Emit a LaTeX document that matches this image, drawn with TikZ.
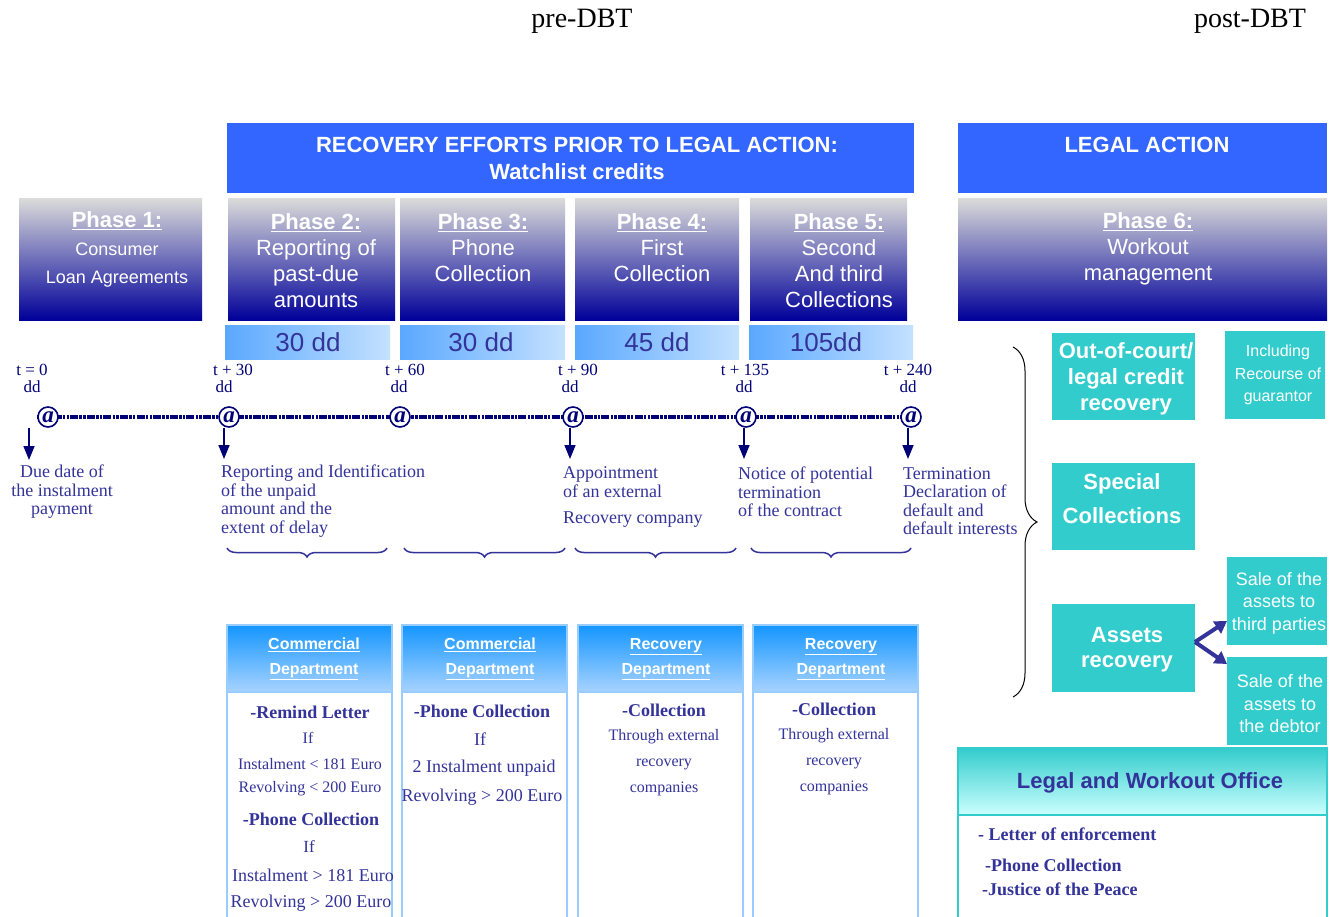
\documentclass[tikz,border=0pt]{standalone}
\usepackage{fontspec}
\setmainfont{Liberation Serif}
\setsansfont{Liberation Sans}
\usetikzlibrary{arrows.meta,decorations.pathreplacing}

\definecolor{hdrblue}{HTML}{3366FF}
\definecolor{phtop}{HTML}{DADADA}
\definecolor{phbot}{HTML}{000099}
\definecolor{durl}{HTML}{5AA8FF}
\definecolor{durr}{HTML}{C4E1FF}
\definecolor{navy}{HTML}{000077}
\definecolor{slate}{HTML}{333399}
\definecolor{tealbg}{HTML}{33CCCC}
\definecolor{depttop}{HTML}{1496FF}
\definecolor{deptbot}{HTML}{A8D3FF}
\definecolor{deptline}{HTML}{99CCFF}
\definecolor{lwbot}{HTML}{CCFFFF}

\newcommand\fsz[2]{\fontsize{#1pt}{#2pt}\selectfont}

\tikzset{
  box/.style={anchor=north west, inner sep=0pt, outer sep=0pt, draw=none},
  header/.style={box, fill=hdrblue},
  phasebox/.style={box, top color=phtop, bottom color=phbot},
  durbar/.style={box, left color=durl, right color=durr},
  tealbox/.style={box, fill=tealbg},
  deptbox/.style={box, draw=deptline, line width=2pt, fill=white},
  depthead/.style={box, draw=deptline, line width=2pt, top color=depttop, bottom color=deptbot},
  lwbox/.style={box, draw=tealbg, line width=2pt, fill=white},
  lwhead/.style={box, draw=tealbg, line width=2pt, top color=tealbg, bottom color=lwbot},
  wtxt/.style={text=white, font=\sffamily, align=center, inner sep=0pt},
  durtxt/.style={text=slate, font=\sffamily\fsz{26}{26}, inner sep=0pt},
  tlab/.style={text=navy, font=\fsz{17}{17}, inner sep=0pt},
  ann/.style={text=slate, font=\fsz{18}{18.5}, align=left, anchor=west, inner sep=0pt},
  body/.style={text=slate, inner sep=0pt},
  atmark/.style={circle, draw=navy, line width=1.6pt, fill=white, inner sep=0pt,
                 minimum size=20pt, text=navy, font=\fsz{23}{23}\bfseries\itshape},
  downarr/.style={draw=navy, line width=1.6pt, -{Triangle[width=11pt,length=14pt]}},
  tline/.style={draw=navy, line width=3.2pt,
                dash pattern=on 8pt off 1.2pt on 2.5pt off 1.2pt on 2.5pt off 1.2pt},
  ubrace/.style={draw=slate, line width=1.5pt, decorate,
                 decoration={brace, mirror, amplitude=9pt}},
  bigbrace/.style={draw=black, line width=1pt, decorate,
                   decoration={brace, amplitude=24pt}},
  bigarr/.style={draw=slate, line width=4pt, -{Triangle[width=14pt,length=12pt]}},
}

\begin{document}
\begin{tikzpicture}[x=1pt, y=-1pt]
\useasboundingbox (0,0) rectangle (1338,917);
\clip (0,0) rectangle (1338,917);
\fill[white] (0,0) rectangle (1338,917);

% period captions
\node[font=\fsz{28}{28}, inner sep=0pt] (pre) at (582,21) {pre-DBT};
\node[font=\fsz{28}{28}, inner sep=0pt] (post) at (1250,21) {post-DBT};

% blue header bars
\node[header, minimum width=687pt, minimum height=70pt] (hd1) at (227,123) {};
\node[wtxt, font=\sffamily\bfseries\fsz{22}{27}] (hd1t) at (577,158)
  {RECOVERY EFFORTS PRIOR TO LEGAL ACTION:\\Watchlist credits};
\node[header, minimum width=369pt, minimum height=70pt] (hd2) at (958,123) {};
\node[wtxt, font=\sffamily\bfseries\fsz{22}{27}] (hd2t) at (1147,145) {LEGAL ACTION};

% phase boxes
\node[phasebox, minimum width=183pt, minimum height=121pt] (p1) at (19,199) {};
\node[phasebox, minimum width=167pt, minimum height=121pt] (p2) at (228,199) {};
\node[phasebox, minimum width=165pt, minimum height=121pt] (p3) at (400,199) {};
\node[phasebox, minimum width=164pt, minimum height=121pt] (p4) at (575,199) {};
\node[phasebox, minimum width=157pt, minimum height=121pt] (p5) at (750,199) {};
\node[phasebox, minimum width=369pt, minimum height=121pt] (p6) at (958,199) {};

\node[wtxt, font=\sffamily\fsz{18}{28}] (p1t) at (117,249)
  {{\fsz{22}{22}\bfseries\underline{Phase 1:}}\\Consumer\\Loan Agreements};
\node[wtxt, font=\sffamily\fsz{22}{26}] (p2t) at (316,261)
  {\textbf{\underline{Phase 2:}}\\Reporting of\\past-due\\amounts};
\node[wtxt, font=\sffamily\fsz{22}{26}] (p3t) at (483,248)
  {\textbf{\underline{Phase 3:}}\\Phone\\Collection};
\node[wtxt, font=\sffamily\fsz{22}{26}] (p4t) at (662,248)
  {\textbf{\underline{Phase 4:}}\\First\\Collection};
\node[wtxt, font=\sffamily\fsz{22}{26}] (p5t) at (839,261)
  {\textbf{\underline{Phase 5:}}\\Second\\And third\\Collections};
\node[wtxt, font=\sffamily\fsz{22}{26}] (p6t) at (1148,249)
  {\textbf{\underline{Phase 6:}}\\Workout\\management};

% duration bars
\node[durbar, minimum width=165pt, minimum height=34pt] (d2) at (225,325) {};
\node[durbar, minimum width=165pt, minimum height=34pt] (d3) at (400,325) {};
\node[durbar, minimum width=164pt, minimum height=34pt] (d4) at (575,325) {};
\node[durbar, minimum width=164pt, minimum height=34pt] (d5) at (749,325) {};
\node[durtxt] (d2t) at (308,342) {30 dd};
\node[durtxt] (d3t) at (481,342) {30 dd};
\node[durtxt] (d4t) at (657,342) {45 dd};
\node[durtxt] (d5t) at (826,342) {105dd};

% day marks
\node[tlab] (t0) at (32,370) {t = 0};    \node[tlab] (t0d) at (32,387) {dd};
\node[tlab] (t1) at (233,370) {t + 30};  \node[tlab] (t1d) at (224,387) {dd};
\node[tlab] (t2) at (405,370) {t + 60};  \node[tlab] (t2d) at (399,387) {dd};
\node[tlab] (t3) at (578,370) {t + 90};  \node[tlab] (t3d) at (570,387) {dd};
\node[tlab] (t4) at (745,370) {t + 135}; \node[tlab] (t4d) at (744,387) {dd};
\node[tlab] (t5) at (908,370) {t + 240}; \node[tlab] (t5d) at (908,387) {dd};

% time line with milestones
\coordinate (tl0) at (37,417);
\coordinate (tl1) at (911,417);
\draw[tline] (tl0) -- (tl1);
\node[atmark] (a0) at (48,417) {a};
\node[atmark] (a1) at (229,417) {a};
\node[atmark] (a2) at (400,417) {a};
\node[atmark] (a3) at (573,417) {a};
\node[atmark] (a4) at (746,417) {a};
\node[atmark] (a5) at (911,417) {a};

% downward arrows to the events
\coordinate (s0) at (29,428);  \coordinate (e0) at (29,460);
\coordinate (s1) at (224,428); \coordinate (e1) at (224,459);
\coordinate (s3) at (570,428); \coordinate (e3) at (570,459);
\coordinate (s4) at (744,428); \coordinate (e4) at (744,459);
\coordinate (s5) at (908,428); \coordinate (e5) at (908,459);
\draw[downarr] (s0) -- (e0);
\draw[downarr] (s1) -- (e1);
\draw[downarr] (s3) -- (e3);
\draw[downarr] (s4) -- (e4);
\draw[downarr] (s5) -- (e5);

% event descriptions
\node[ann, align=center, anchor=center] (ev0) at (62,492)
  {Due date of\\the instalment\\payment};
\node[ann] (ev1) at (221,501)
  {Reporting and Identification\\of the unpaid\\amount and the\\extent of delay};
\node[ann] (ev3) at (563,497)
  {Appointment\\of an external\\[8pt]Recovery company};
\node[ann] (ev4) at (738,492)
  {Notice of potential\\termination\\of the contract};
\node[ann] (ev5) at (903,501)
  {Termination\\Declaration of\\default and\\default interests};

% braces under the phases
\draw[ubrace] (227,548) -- (387,548);
\draw[ubrace] (404,548) -- (565,548);
\draw[ubrace] (575,548) -- (736,548);
\draw[ubrace] (751,548) -- (911,548);
\draw[bigbrace] (1013,347) -- (1013,697);

% department boxes
\node[deptbox, minimum width=165pt, minimum height=300pt] (c1) at (227,625) {};
\node[deptbox, minimum width=165pt, minimum height=300pt] (c2) at (402,625) {};
\node[deptbox, minimum width=165pt, minimum height=300pt] (c3) at (578,625) {};
\node[deptbox, minimum width=165pt, minimum height=300pt] (c4) at (753,625) {};
\node[depthead, minimum width=165pt, minimum height=67pt] (h1) at (227,625) {};
\node[depthead, minimum width=165pt, minimum height=67pt] (h2) at (402,625) {};
\node[depthead, minimum width=165pt, minimum height=67pt] (h3) at (578,625) {};
\node[depthead, minimum width=165pt, minimum height=67pt] (h4) at (753,625) {};
\node[wtxt, font=\sffamily\bfseries\fsz{16}{25}] (h1t) at (314,659)
  {\underline{Commercial}\\\underline{Department}};
\node[wtxt, font=\sffamily\bfseries\fsz{16}{25}] (h2t) at (490,659)
  {\underline{Commercial}\\\underline{Department}};
\node[wtxt, font=\sffamily\bfseries\fsz{16}{25}] (h3t) at (666,659)
  {\underline{Recovery}\\\underline{Department}};
\node[wtxt, font=\sffamily\bfseries\fsz{16}{25}] (h4t) at (841,659)
  {\underline{Recovery}\\\underline{Department}};

% commercial department, phase 2
\node[body, font=\bfseries\fsz{18}{18}] (b1a) at (310,712) {-Remind Letter};
\node[body, font=\fsz{16}{16}] (b1b) at (308,738) {If};
\node[body, font=\fsz{16}{16}] (b1c) at (310,764) {Instalment < 181 Euro};
\node[body, font=\fsz{16}{16}] (b1d) at (310,789) {Revolving < 200 Euro};
\node[body, font=\bfseries\fsz{18}{18}] (b1e) at (311,819) {-Phone Collection};
\node[body, font=\fsz{17}{17}] (b1f) at (309,847) {If};
\node[body, font=\fsz{18}{18}] (b1g) at (313,875) {Instalment > 181 Euro};
\node[body, font=\fsz{18}{18}] (b1h) at (311,903) {Revolving > 200 Euro};

% commercial department, phase 3
\node[body, font=\bfseries\fsz{18}{18}] (b2a) at (482,711) {-Phone Collection};
\node[body, font=\fsz{18}{18}] (b2b) at (480,739) {If};
\node[body, font=\fsz{18}{18}] (b2c) at (484,768) {2 Instalment unpaid};
\node[body, font=\fsz{18}{18}] (b2d) at (482,797) {Revolving > 200 Euro};

% recovery department, phases 4 and 5
\node[body, font=\bfseries\fsz{18}{18}] (b3a) at (664,710) {-Collection};
\node[body, font=\fsz{16}{26}, align=center] (b3b) at (664,763)
  {Through external\\recovery\\companies};
\node[body, font=\bfseries\fsz{18}{18}] (b4a) at (834,709) {-Collection};
\node[body, font=\fsz{16}{26}, align=center] (b4b) at (834,762)
  {Through external\\recovery\\companies};

% legal action options
\node[tealbox, minimum width=143pt, minimum height=87pt] (oc) at (1052,333) {};
\node[wtxt, font=\sffamily\bfseries\fsz{22}{26}] (oct) at (1126,379)
  {Out-of-court/\\legal credit\\recovery};
\node[tealbox, minimum width=100pt, minimum height=88pt] (inc) at (1225,331) {};
\node[wtxt, font=\sffamily\fsz{16}{22.5}] (inct) at (1278,375)
  {Including\\Recourse of\\guarantor};
\node[tealbox, minimum width=143pt, minimum height=87pt] (sc) at (1052,463) {};
\node[wtxt, font=\sffamily\bfseries\fsz{22}{34}] (sct) at (1122,499)
  {Special\\Collections};
\node[tealbox, minimum width=143pt, minimum height=88pt] (ar) at (1052,604) {};
\node[wtxt, font=\sffamily\bfseries\fsz{22}{25}] (art) at (1127,650)
  {Assets\\recovery};
\node[tealbox, minimum width=100pt, minimum height=88pt] (s3p) at (1227,557) {};
\node[wtxt, font=\sffamily\fsz{18}{22.5}] (s3pt) at (1279,603)
  {Sale of the\\assets to\\third parties};
\node[tealbox, minimum width=100pt, minimum height=88pt] (sdb) at (1227,657) {};
\node[wtxt, font=\sffamily\fsz{18}{22.5}] (sdbt) at (1280,704)
  {Sale of the\\assets to\\the debtor};

\draw[bigarr] ([yshift=6pt]ar.east) -- ([yshift=-20pt]s3p.west);
\draw[bigarr] ([yshift=6pt]ar.east) -- ([yshift=37pt]sdb.west);

% legal and workout office
\node[lwbox, minimum width=369pt, minimum height=200pt] (lw) at (958,748) {};
\node[lwhead, minimum width=369pt, minimum height=67pt] (lwh) at (958,748) {};
\node[text=slate, font=\sffamily\bfseries\fsz{22}{22}, inner sep=0pt] (lwt) at (1150,783)
  {Legal and Workout Office};
\node[body, anchor=west, font=\bfseries\fsz{18}{18}] (lw1) at (978,834) {- Letter of enforcement};
\node[body, anchor=west, font=\bfseries\fsz{18}{18}] (lw2) at (985,865) {-Phone Collection};
\node[body, anchor=west, font=\bfseries\fsz{18}{18}] (lw3) at (982,889) {-Justice of the Peace};
\end{tikzpicture}
\end{document}
